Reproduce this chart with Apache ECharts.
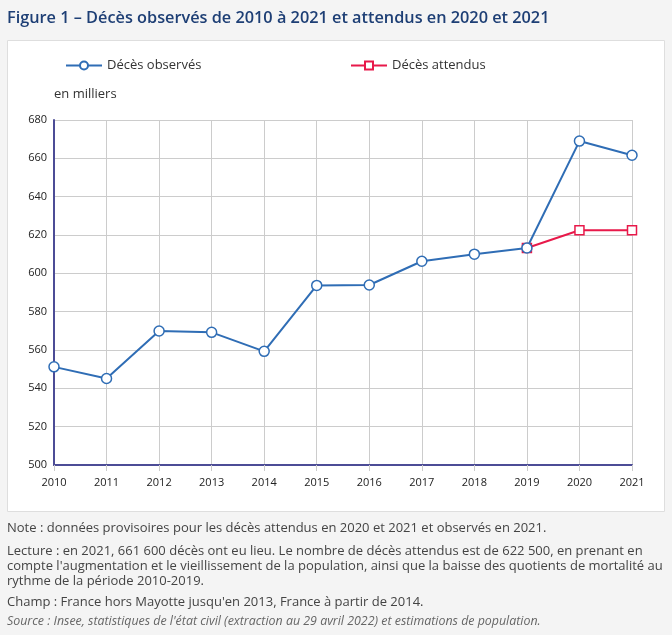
<!DOCTYPE html>
<html>
<head>
<meta charset="utf-8">
<script src="https://cdn.jsdelivr.net/npm/echarts@6/dist/echarts.min.js"></script>
<style>
html,body{margin:0;padding:0;background:#f4f4f4;}
#c{width:672px;height:635px;}
</style>
</head>
<body>
<div id="c"></div>
<script>
const years = ['2010','2011','2012','2013','2014','2015','2016','2017','2018','2019','2020','2021'];
const observed = [551.2, 545.1, 569.9, 569.2, 559.3, 593.7, 593.9, 606.3, 610.0, 613.2, 669.0, 661.6];
const expected = [null, null, null, null, null, null, null, null, null, 613.2, 622.5, 622.5];
const yTicks = [500, 520, 540, 560, 580, 600, 620, 640, 660, 680];
const titleText = 'Figure 1 – Décès observés de 2010 à 2021 et attendus en 2020 et 2021';
const unitText = 'en milliers';
const notes = [
  'Note : données provisoires pour les décès attendus en 2020 et 2021 et observés en 2021.',
  'Lecture : en 2021, 661 600 décès ont eu lieu. Le nombre de décès attendus est de 622 500, en prenant en',
  'compte l\'augmentation et le vieillissement de la population, ainsi que la baisse des quotients de mortalité au',
  'rythme de la période 2010-2019.',
  'Champ : France hors Mayotte jusqu\'en 2013, France à partir de 2014.'
];
const sourceText = 'Source : Insee, statistiques de l\'état civil (extraction au 29 avril 2022) et estimations de population.';

const FONT = '"Open Sans", "Noto Sans", sans-serif';
const chart = echarts.init(document.getElementById('c'));
const noteY = [522, 545, 560, 575, 596];
const graphics = [
  {type:'rect', shape:{x:7.5,y:40.5,width:657,height:471}, style:{fill:'#fff', stroke:'#dedede', lineWidth:1}, z:-10},
  {type:'text', left:7, top:10, style:{text:titleText, fill:'#1e3f75', font:'600 16.3px ' + FONT}},
  {type:'text', left:54, top:88, style:{text:unitText, fill:'#333', font:'13px ' + FONT}}
];
notes.forEach((t,i)=>graphics.push({type:'text', left:7, top:noteY[i], style:{text:t, fill:'#444', font:'13px ' + FONT}}));
graphics.push({type:'text', left:7, top:615, style:{text:sourceText, fill:'#666', font:'italic 12.4px ' + FONT}});

chart.setOption({
  animation:false,
  backgroundColor:'#f4f4f4',
  textStyle:{fontFamily:FONT},
  graphic:graphics,
  legend:[
    {data:['Décès observés'], left:60, top:54, itemWidth:36, itemHeight:10, itemGap:10,
     textStyle:{fontSize:13, color:'#333', fontFamily:FONT}},
    {data:['Décès attendus'], left:345, top:54, itemWidth:36, itemHeight:10, itemGap:10,
     textStyle:{fontSize:13, color:'#333', fontFamily:FONT}}
  ],
  grid:{left:54, right:40, top:120, bottom:170},
  xAxis:{
    type:'category', data:years, boundaryGap:false,
    axisLine:{show:true, lineStyle:{color:'#4c4c96', width:2}},
    axisTick:{show:true, length:6, alignWithLabel:true, lineStyle:{color:'#cccccc'}},
    axisLabel:{color:'#222', fontSize:11, margin:12, fontFamily:FONT},
    splitLine:{show:true, lineStyle:{color:'#cccccc', width:1}}
  },
  yAxis:{
    type:'value', min:yTicks[0], max:yTicks[yTicks.length-1], interval:20,
    axisLine:{show:true, lineStyle:{color:'#4c4c96', width:2}},
    axisTick:{show:false},
    axisLabel:{color:'#222', fontSize:11, margin:7, fontFamily:FONT},
    splitLine:{show:true, lineStyle:{color:'#cccccc', width:1}}
  },
  series:[
    {name:'Décès observés', type:'line', data:observed, z:4,
     symbol:'circle', symbolSize:10,
     lineStyle:{color:'#2f6db5', width:2},
     itemStyle:{color:'#ffffff', borderColor:'#2f6db5', borderWidth:1.5}},
    {name:'Décès attendus', type:'line', data:expected, z:3,
     symbol:'rect', symbolSize:9, connectNulls:false,
     lineStyle:{color:'#e8194a', width:2},
     itemStyle:{color:'#ffffff', borderColor:'#e8194a', borderWidth:1.5}}
  ]
});
</script>
</body>
</html>
